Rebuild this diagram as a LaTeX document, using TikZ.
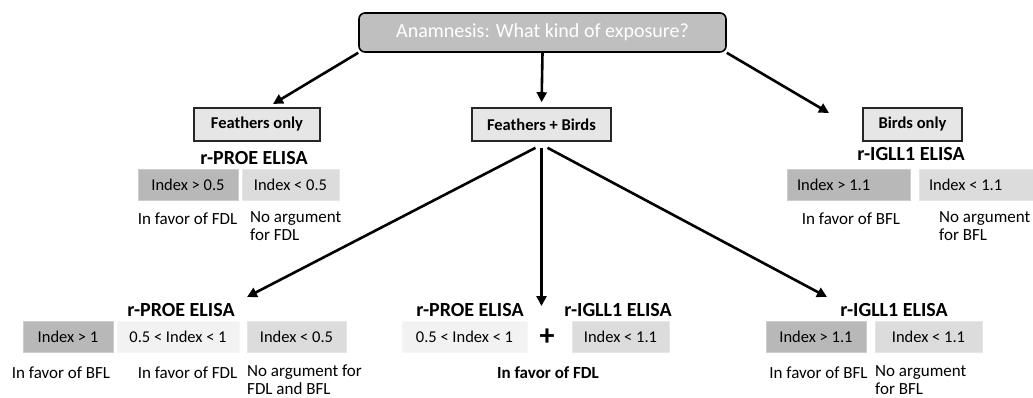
\documentclass[tikz,border=0pt]{standalone}
\usepackage{fontspec}
\setmainfont{Carlito}
\usetikzlibrary{arrows.meta}
\definecolor{titlegray}{HTML}{BFBFBF}
\definecolor{higray}{HTML}{B8B8B8}
\definecolor{logray}{HTML}{DCDCDC}
\definecolor{midgray}{HTML}{F2F2F2}
\definecolor{catgray}{HTML}{E6E6E6}
\tikzset{
  arr/.style={line width=2.6pt,-{Triangle[length=10pt,width=10pt]}},
  catbox/.style={draw=black!85,line width=1.6pt,fill=catgray,minimum height=33pt,inner sep=0pt,
    font=\fontsize{16.5}{18}\selectfont\bfseries},
  head/.style={inner sep=0pt,font=\fontsize{20}{22}\selectfont\bfseries},
  idx/.style={minimum height=31pt,inner sep=0pt,font=\fontsize{16.5}{18}\selectfont},
  hibox/.style={idx,fill=higray,draw=higray!70!white},
  lobox/.style={idx,fill=logray,draw=logray!70!white},
  midbox/.style={idx,fill=midgray,draw=midgray!70!white},
  note/.style={inner sep=0pt,align=left,font=\fontsize{17}{18}\selectfont}
}
\begin{document}
\begin{tikzpicture}[x=1pt,y=-1pt]
\useasboundingbox (0,0) rectangle (1033,398);
\node[draw,line width=1.6pt,rounded corners=6pt,fill=titlegray,text=white,minimum width=367pt,
  minimum height=39pt,font=\fontsize{20}{22}\selectfont] (expo) at (542.5,32.5) {Anamnesis: What kind of exposure?};
\node[catbox,minimum width=126pt] (fonly) at (257,124.5) {Feathers only};
\node[catbox,minimum width=139pt] (fbirds) at (541.5,124.5) {Feathers + Birds};
\node[catbox,minimum width=99pt] (bonly) at (912.5,124.5) {Birds only};

% feathers only
\node[head] (proeA) at (254,158) {r-PROE ELISA};
\node[hibox,minimum width=100pt] (proeAhi) at (188,184.5) {Index > 0.5};
\node[lobox,minimum width=97pt] (proeAlo) at (290.5,184.5) {Index < 0.5};
\node[note] (proeAfav) at (187.5,219) {In favor of FDL};
\node[note,anchor=north west] (proeAno) at (250,211) {No argument\\for FDL};

% birds only
\node[head] (igllA) at (911,154) {r-IGLL1 ELISA};
\node[hibox,minimum width=123pt] (igllAhi) at (848.5,184.5) {\makebox[103pt][l]{Index > 1.1}};
\node[lobox,minimum width=114pt] (igllAlo) at (976,184.5) {\makebox[94pt][l]{Index < 1.1}};
\node[note] (igllAfav) at (851,219) {In favor of BFL};
\node[note,anchor=north west] (igllAno) at (939,211) {No argument\\for BFL};

% feathers + birds, left
\node[head] (proeB) at (181,310) {r-PROE ELISA};
\node[hibox,minimum width=90pt] (proeBhi) at (68,337) {Index > 1};
\node[midbox,minimum width=122pt] (proeBmid) at (178,337) {0.5 < Index < 1};
\node[lobox,minimum width=99pt] (proeBlo) at (296.5,337) {Index < 0.5};
\node[note] (proeBbfl) at (61,373) {In favor of BFL};
\node[note] (proeBfdl) at (187.5,373) {In favor of FDL};
\node[note,anchor=north west] (proeBno) at (247,365) {No argument for\\FDL and BFL};

% feathers + birds, middle
\node[head] (proeC) at (470,310) {r-PROE ELISA};
\node[head] (igllC) at (618,310) {r-IGLL1 ELISA};
\node[midbox,minimum width=125pt] (proeCmid) at (464.5,337) {0.5 < Index < 1};
\node[inner sep=0pt,font=\fontsize{30}{30}\selectfont\bfseries] (plus) at (547,337) {+};
\node[lobox,minimum width=97pt] (igllClo) at (620.5,337) {Index < 1.1};
\node[note,font=\fontsize{17}{18}\selectfont\bfseries] (both) at (548,373) {In favor of FDL};

% feathers + birds, right
\node[head] (igllB) at (894,310) {r-IGLL1 ELISA};
\node[hibox,minimum width=100pt] (igllBhi) at (816,337) {Index > 1.1};
\node[lobox,minimum width=107pt] (igllBlo) at (928.5,337) {Index < 1.1};
\node[note] (igllBfav) at (818.5,373) {In favor of BFL};
\node[note,anchor=north west] (igllBno) at (875,365) {No argument\\for BFL};

% arrows
\coordinate (fonlyin) at (273,104);
\coordinate (bonlyin) at (829,113);
\coordinate (proeBin) at (247,297);
\coordinate (bothin) at (541.5,306);
\coordinate (igllBin) at (827,297);
\draw[arr] (expo.south west) -- (fonlyin);
\draw[arr,shorten >=5pt] (expo.south) -- (fbirds.north);
\draw[arr] (expo.south east) -- (bonlyin);
\draw[arr] ([xshift=-6pt,yshift=-6pt]fbirds.south) -- (proeBin);
\draw[arr] ([yshift=-6pt]fbirds.south) -- (bothin);
\draw[arr] ([xshift=6pt,yshift=-6pt]fbirds.south) -- (igllBin);
\end{tikzpicture}
\end{document}
